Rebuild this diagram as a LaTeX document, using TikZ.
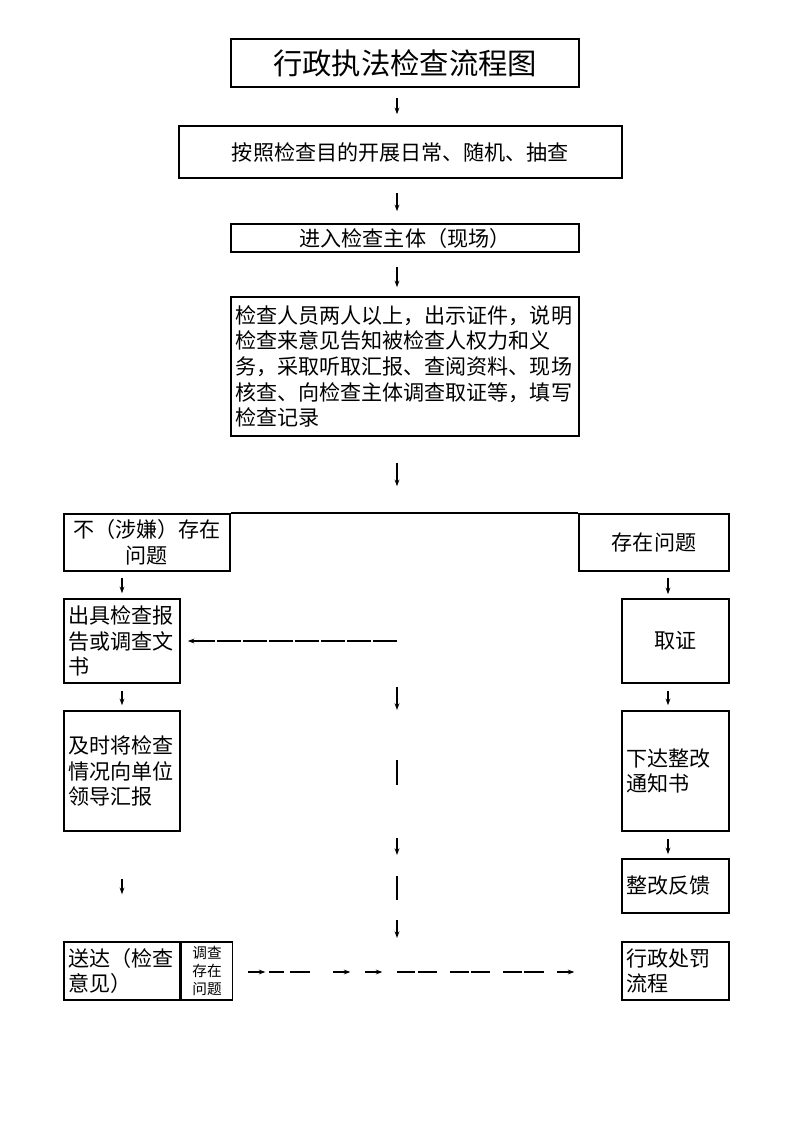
\documentclass[tikz,border=0pt]{standalone}
\usepackage{fontspec}
\setmainfont{Noto Sans CJK SC}
\usetikzlibrary{arrows.meta, positioning, calc}
\newdimen\px \px=0.75pt

\begin{document}
\begin{tikzpicture}[
  x=0.75pt, y=-0.75pt,
  box/.style={draw, line width=1.2pt, inner sep=0pt,
              font=\fontsize{15.8}{19.2}\selectfont},
  arr/.style={-{Stealth[length=5pt, width=3.6pt]}, line width=0.8pt},
  seg/.style={line width=0.8pt},
  dashline/.style={arr, dash pattern=on 18pt off 1.5pt}
]
  \useasboundingbox (0,0) rectangle (793,1122);
  \coordinate (axis) at (397,0);
  \coordinate (raxis) at (668,0);

  % Top column
  \node[box, minimum width=348\px, minimum height=48\px,
        font=\fontsize{22}{24}\selectfont] (title) at (405,63) {行政执法检查流程图};
  \node[box, minimum width=443\px, minimum height=52\px] (plan) at (400.5,152)
    {按照检查目的开展日常、随机、抽查};
  \node[box, minimum width=348\px, minimum height=28\px] (enter) at (405,238)
    {进入检查主体（现场）};
  \node[box, minimum width=348\px, minimum height=139\px, text width=340\px,
        align=left] (check) at (405,366.5)
    {\raisebox{-3pt}{\parbox{340\px}{检查人员两人以上，出示证件，说明\\检查来意见告知被检查人权力和义\\务，采取听取汇报、查阅资料、现场\\核查、向检查主体调查取证等，填写\\检查记录}}};

  % Left branch
  \node[box, minimum width=166\px, minimum height=57\px, align=center] (nohit)
    at (147,542.5) {不（涉嫌）存在\\问题};
  \node[box, minimum width=116\px, minimum height=84\px, text width=108\px,
        align=left] (report) at (122,641) {出具检查报\\告或调查文\\书};
  \node[box, minimum width=116\px, minimum height=120\px, text width=108\px,
        align=left] (inform) at (122,771) {及时将检查\\情况向单位\\领导汇报};
  \node[box, minimum width=116\px, minimum height=58\px, text width=108\px,
        align=left] (deliver) at (122,971) {送达（检查\\意见）};
  \node[box, minimum width=51\px, minimum height=58\px, align=center, anchor=west,
        font=\fontsize{11}{13.8}\selectfont] (probe) at (deliver.east) {调查\\存在\\问题};

  % Right branch
  \node[box, minimum width=150\px, minimum height=57\px] (hit) at (654,542.5) {存在问题};
  \node[box, minimum width=107\px, minimum height=84\px] (evid) at (675.5,641) {取证};
  \node[box, minimum width=107\px, minimum height=120\px, text width=99\px,
        align=left] (notice) at (675.5,771) {下达整改\\通知书};
  \node[box, minimum width=107\px, minimum height=54\px, text width=99\px,
        align=left] (feedback) at (675.5,886) {整改反馈};
  \node[box, minimum width=107\px, minimum height=58\px, text width=99\px,
        align=left] (punish) at (675.5,971) {行政处罚\\流程};

  \draw[line width=1.2pt] (nohit.north east) -- (hit.north west);

  % Arrows down the middle
  \draw[arr, shorten <=10\px, shorten >=11\px] (title.south -| axis) -- (plan.north -| axis);
  \draw[arr, shorten <=14\px, shorten >=12\px] (plan.south -| axis) -- (enter.north -| axis);
  \draw[arr, shorten <=14\px, shorten >=9\px] (enter.south -| axis) -- (check.north -| axis);
  \draw[arr, shorten <=26\px, shorten >=27\px] (check.south -| axis) -- (nohit.north -| axis);
  \draw[dashline, shorten >=7\px] (axis |- report.east) -- (report.east);
  \draw[arr, line width=1.2pt] ($(axis)+(0,687)$) -- ($(axis)+(0,710)$);
  \foreach \a/\b in {760/785, 876/900}
    \draw[seg, line width=1.2pt] ($(axis)+(0,\a)$) -- ($(axis)+(0,\b)$);
  \foreach \a/\b in {838/855, 920/938}
    \draw[arr] ($(axis)+(0,\a)$) -- ($(axis)+(0,\b)$);

  % Left arrows
  \draw[arr, shorten <=6\px, shorten >=5\px] (nohit.south -| report.north) -- (report.north);
  \draw[arr, shorten <=7\px, shorten >=5\px] (report) -- (inform);
  \draw[arr, shorten <=47\px, shorten >=47\px] (inform) -- (deliver);

  % Right arrows
  \draw[arr, shorten <=6\px, shorten >=4\px] (hit.south -| raxis) -- (evid.north -| raxis);
  \draw[arr, shorten <=7\px, shorten >=5\px] (evid.south -| raxis) -- (notice.north -| raxis);
  \draw[arr, shorten <=7\px, shorten >=4\px] (notice.south -| raxis) -- (feedback.north -| raxis);

  % Broken row towards the penalty process
  \foreach \a/\b in {15/32, 100/117, 132/149, 324/341}
    \draw[arr] ($(probe.east)+(\a,1)$) -- ($(probe.east)+(\b,1)$);
  \foreach \a/\b in {36/51, 57/77, 164/182, 185/204, 217/236, 238/257, 270/289, 291/311}
    \draw[seg] ($(probe.east)+(\a,1)$) -- ($(probe.east)+(\b,1)$);
\end{tikzpicture}
\end{document}
